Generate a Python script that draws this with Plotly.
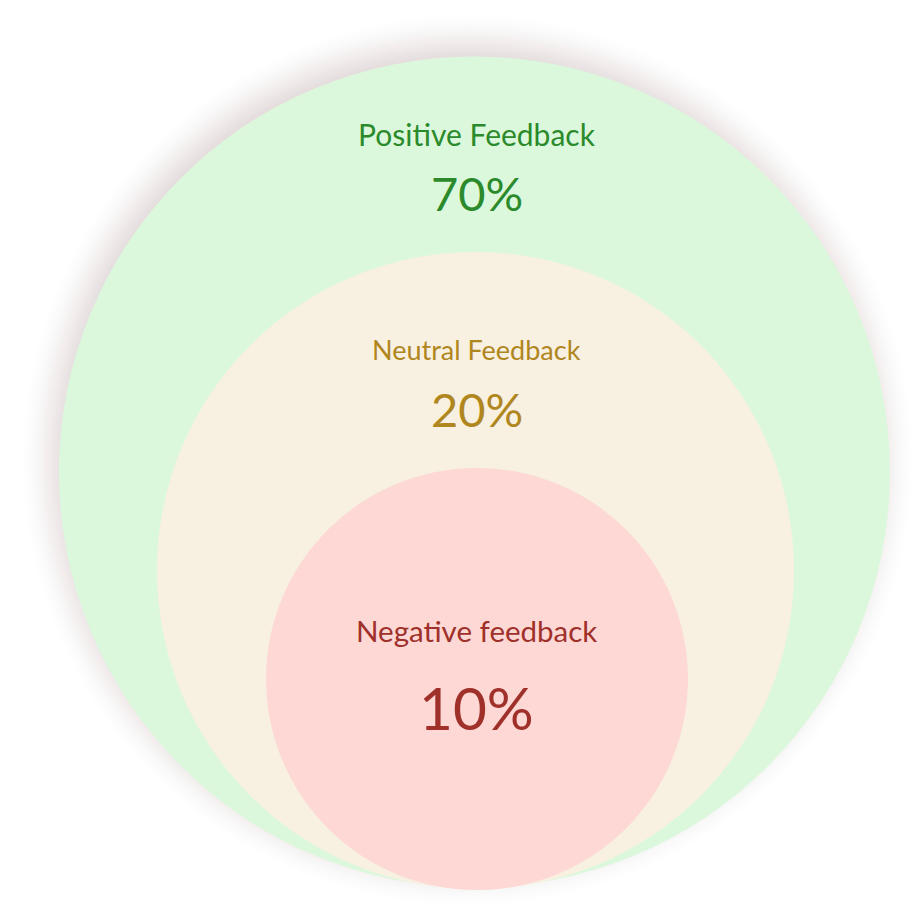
import math
import plotly.graph_objects as go

# ---- data ----
labels = ["Positive Feedback", "Neutral Feedback", "Negative feedback"]
values = [70, 20, 10]

# ---- layout / style constants ----
W, H = 915, 914
centers_x = [474.5, 475.5, 477.0]
centers_y = [472.0, 570.5, 679.0]
radii = [415.5, 318.5, 211.0]
fills = ["#DCF8DC", "#F8F0E0", "#FDD8D5"]
text_colors = ["#2B8A2B", "#B0861E", "#A0302A"]
label_y = [134, 349, 630]
value_y = [193, 409, 707]
label_size = [30, 27, 29.5]
value_size = [47, 47, 58.5]

fig = go.Figure()

shapes = []
# soft shadow around the outer circle (layered translucent rings)
sx, sy = centers_x[0] - 7, centers_y[0] - 12
Rs = radii[0]
sigma = 17.0
A = 0.2
steps = 48
us = [-3 * sigma + 6 * sigma * i / (steps - 1) for i in range(steps)]
Phi = lambda z: 0.5 * (1 + math.erf(z / math.sqrt(2)))
for i in range(steps - 1, -1, -1):
    u = us[i]
    u_next = us[i + 1] if i + 1 < steps else u + 6 * sigma / (steps - 1)
    a = A * (Phi(-u / sigma) - Phi(-u_next / sigma))
    r = Rs + u
    shapes.append(dict(type="circle", xref="x", yref="y",
                       x0=sx - r, x1=sx + r, y0=sy - r, y1=sy + r,
                       fillcolor="rgb(120,60,60)", opacity=a,
                       line=dict(width=0), layer="below"))

for cx, cy, r, f in zip(centers_x, centers_y, radii, fills):
    shapes.append(dict(type="circle", xref="x", yref="y",
                       x0=cx - r, x1=cx + r, y0=cy - r, y1=cy + r,
                       fillcolor=f, line=dict(width=0), layer="below"))

annotations = []
for i, (lab, val) in enumerate(zip(labels, values)):
    annotations.append(dict(x=centers_x[0] + 2, y=label_y[i], xref="x", yref="y",
                            text=lab, showarrow=False, xanchor="center", yanchor="middle",
                            font=dict(family="Lato", size=label_size[i], color=text_colors[i])))
    annotations.append(dict(x=centers_x[0] + 2, y=value_y[i], xref="x", yref="y",
                            text=f"{val}%", showarrow=False, xanchor="center", yanchor="middle",
                            font=dict(family="Lato", size=value_size[i], color=text_colors[i])))

fig.update_layout(
    width=W, height=H,
    margin=dict(l=0, r=0, t=0, b=0),
    paper_bgcolor="white", plot_bgcolor="white",
    xaxis=dict(range=[0, W], visible=False, fixedrange=True),
    yaxis=dict(range=[H, 0], visible=False, fixedrange=True),
    shapes=shapes, annotations=annotations,
    showlegend=False,
)

fig.write_html("out.html")
